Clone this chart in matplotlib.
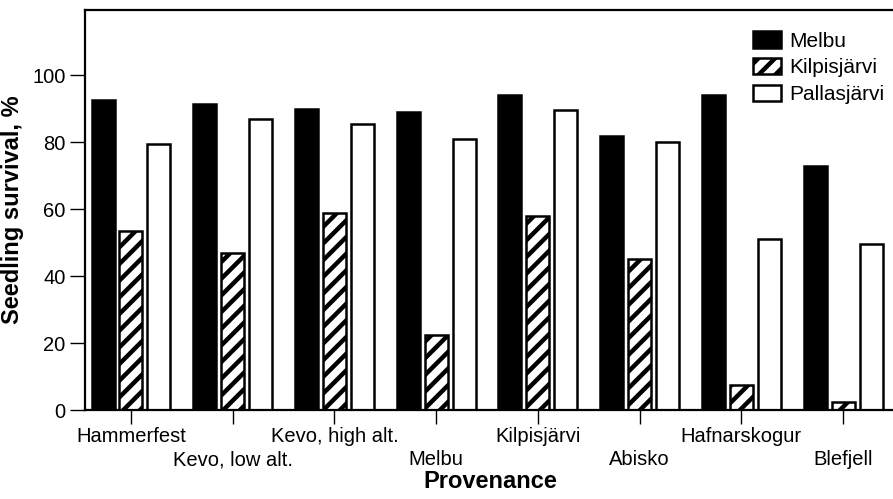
import matplotlib.pyplot as plt
import numpy as np

plt.rcParams['font.family'] = ['Liberation Sans', 'DejaVu Sans']
plt.rcParams['hatch.linewidth'] = 3.2

provenances = ["Hammerfest", "Kevo, low alt.", "Kevo, high alt.", "Melbu",
               "Kilpisjärvi", "Abisko", "Hafnarskogur", "Blefjell"]
melbu = [92.5, 91.5, 90, 89, 94, 82, 94, 73]
kilpisjarvi = [53.5, 47, 59, 22.5, 58, 45, 7.5, 2.5]
pallasjarvi = [79.5, 87, 85.5, 81, 89.5, 80, 51, 49.5]

fig = plt.figure(figsize=(8.93, 4.99), dpi=100)
ax = fig.add_axes([85 / 893, 89 / 499, 810 / 893, 400 / 499])

x = np.arange(len(provenances))
w = 0.226
step = 0.275
ax.bar(x - step, melbu, w, color="black", edgecolor="black", linewidth=1.8, label="Melbu")
ax.bar(x, kilpisjarvi, w, color="white", edgecolor="black", linewidth=1.8,
       hatch="//", label="Kilpisjärvi")
ax.bar(x + step, pallasjarvi, w, color="white", edgecolor="black", linewidth=1.8,
       label="Pallasjärvi")

ax.set_xlim(-0.452, 7.51)
ax.set_ylim(0, 119.5)
ax.set_yticks([0, 20, 40, 60, 80, 100])
ax.set_xticks(x)
ax.set_xticklabels(provenances)
ax.tick_params(axis="y", direction="out", length=11, width=1, labelsize=14.5, pad=3)
ax.tick_params(axis="x", direction="out", length=10, width=1, labelsize=14.5, pad=2)
# every second label goes one row lower so neighbours don't collide
for i, tick in enumerate(ax.xaxis.get_major_ticks()):
    if i % 2 == 1:
        tick.set_pad(19)

for s in ["left", "top", "bottom"]:
    ax.spines[s].set_linewidth(1.6)
ax.spines["right"].set_visible(False)

ax.set_ylabel("Seedling survival, %", fontsize=17, fontweight="bold", labelpad=6)
ax.set_xlabel("Provenance", fontsize=17, fontweight="bold")
ax.xaxis.set_label_coords(0.5, -0.178)
ax.xaxis.label.set_va("center")

ax.legend(loc="upper left", bbox_to_anchor=(753 / 893, 1 - 31 / 499),
          bbox_transform=fig.transFigure, frameon=False, fontsize=15,
          borderpad=0, borderaxespad=0, handlelength=1.35, handleheight=0.85,
          labelspacing=0.35, handletextpad=0.4)

fig.savefig("out.png", dpi=100)
